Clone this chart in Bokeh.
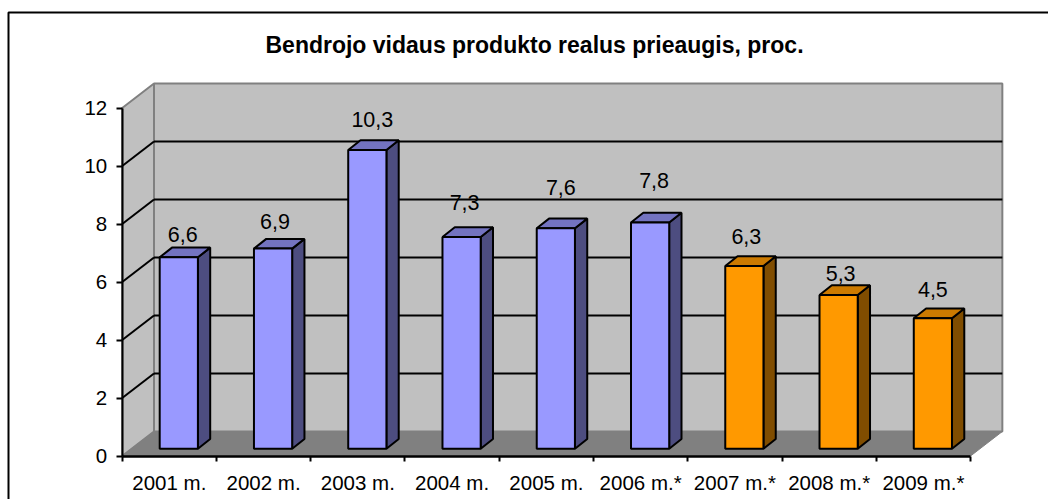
from bokeh.embed import file_html
from bokeh.resources import INLINE
from bokeh.plotting import figure
from bokeh.models import Range1d, LinearAxis, FixedTicker, ColumnDataSource
from bokeh.core.properties import value

TITLE = "Bendrojo vidaus produkto realus prieaugis, proc."
years = ["2001 m.", "2002 m.", "2003 m.", "2004 m.", "2005 m.", "2006 m.*", "2007 m.*", "2008 m.*", "2009 m.*"]
growth = [6.6, 6.9, 10.3, 7.3, 7.6, 7.8, 6.3, 5.3, 4.5]
growth_text = ["6,6", "6,9", "10,3", "7,3", "7,6", "7,8", "6,3", "5,3", "4,5"]
forecast = [False, False, False, False, False, False, True, True, True]
y_ticks = [0, 2, 4, 6, 8, 10, 12]

# lift of each hand-placed data label above its column (px), and its horizontal shift
label_lift = [15, 20, 23, 27, 33, 35, 22, 14, 21]
label_shift = [4, 2, 5, 3, 5, 4, 2, 2, 0]

FONT = "Liberation Sans"
FW, FH = 1048, 499
PX = 94.26      # px per category
PY = 29.0       # px per value unit
X0, Y0 = 121.7, 455.5  # pixel position of origin
DX, DY = 31.8 / PX, 24.5 / PY   # depth of the 3-D box
BAR_L, BAR_W = 37.5 / PX, 38.2 / PX
BAR_B = 7.3 / PY
BDX, BDY = 12.3 / PX, 9.7 / PY
N = len(years)


def sx(px):
    return (px - X0) / PX


def sy(py):
    return (Y0 - py) / PY


p = figure(width=FW, height=FH, min_border=0, output_backend="svg", toolbar_location=None,
           x_axis_type=None, y_axis_type=None,
           x_range=Range1d(sx(0), sx(FW)), y_range=Range1d(sy(FH), sy(0)))
p.grid.visible = False
p.outline_line_color = None
p.background_fill_color = "white"
p.border_fill_color = "white"

# outer chart border (runs off the right and bottom of the picture)
p.line([sx(8), sx(8), sx(FW + 5)], [sy(FH + 5), sy(12), sy(12)], line_color="black", line_width=2)

p.text([sx(534)], [sy(44)], text=[TITLE], text_font=value(FONT), text_font_size="23px", text_font_style="bold",
       text_color="black", text_align="center", text_baseline="middle")

TOP = y_ticks[-1]
# walls and floor
p.patch([0, DX, DX, 0], [TOP, TOP + DY, DY, 0], fill_color="#C0C0C0", line_color="#808080", line_width=2)
p.quad(left=DX, right=N + DX, bottom=DY, top=TOP + DY, fill_color="#C0C0C0", line_color="#808080", line_width=2)
p.patch([0, N, N + DX, DX], [0, 0, DY, DY], fill_color="#808080", line_color="#808080", line_width=1)
# gridlines
gt = [v for v in y_ticks if 0 < v < TOP]
p.segment([DX] * len(gt), [v + DY for v in gt], [N + DX] * len(gt), [v + DY for v in gt], line_color="black", line_width=2)
p.segment([0] * len(gt), gt, [DX] * len(gt), [v + DY for v in gt], line_color="black", line_width=2)

# columns
for i, v in enumerate(growth):
    l, r, b = i + BAR_L, i + BAR_L + BAR_W, BAR_B
    front, side, top = ("#FF9900", "#804D00", "#CC7A00") if forecast[i] else ("#9999FF", "#4D4D80", "#7373C0")
    p.patch([r, r + BDX, r + BDX, r], [b, b + BDY, v + b + BDY, v + b], fill_color=side, line_color="black", line_width=2)
    p.patch([l, r, r + BDX, l + BDX], [v + b, v + b, v + b + BDY, v + b + BDY], fill_color=top, line_color="black", line_width=2)
    p.quad(left=l, right=r, bottom=b, top=v + b, fill_color=front, line_color="black", line_width=2)

src = ColumnDataSource(dict(
    x=[i + BAR_L + BAR_W / 2 for i in range(N)],
    y=[v + BAR_B for v in growth],
    t=growth_text, xo=label_shift, yo=[-d for d in label_lift]))
p.text("x", "y", text="t", x_offset="xo", y_offset="yo", source=src, text_font=value(FONT), text_font_size="21.5px",
       text_color="black", text_align="center", text_baseline="bottom")

# axes
yax = LinearAxis(fixed_location=0, bounds=(0, TOP), ticker=FixedTicker(ticks=y_ticks),
                 major_label_overrides={v: str(v) for v in y_ticks})
yax.major_label_text_font = FONT
yax.major_label_text_font_size = "20.5px"
yax.major_label_text_color = "black"
yax.major_label_standoff = 9
yax.major_tick_out = 6
yax.major_tick_in = 0
yax.minor_tick_out = 0
yax.minor_tick_in = 0
yax.major_tick_line_width = 2
yax.axis_line_width = 2
yax.axis_line_color = "black"
yax.major_tick_line_color = "black"
p.add_layout(yax, "left")

xtk = LinearAxis(fixed_location=0, bounds=(0, N), ticker=FixedTicker(ticks=list(range(N + 1))),
                 major_label_text_font_size="0px")
xtk.major_tick_out = 5
xtk.major_tick_in = 0
xtk.minor_tick_out = 0
xtk.minor_tick_in = 0
xtk.major_tick_line_width = 2
xtk.axis_line_width = 2.5
xtk.axis_line_color = "black"
xtk.major_tick_line_color = "black"
xtk.major_label_text_color = None
p.add_layout(xtk, "below")

centers = [i + 0.5 for i in range(N)]
xax = LinearAxis(fixed_location=0, ticker=FixedTicker(ticks=centers),
                 major_label_overrides={c: y for c, y in zip(centers, years)})
xax.axis_line_color = None
xax.major_tick_line_color = None
xax.minor_tick_line_color = None
xax.major_tick_in = 0
xax.major_tick_out = 0
xax.major_label_standoff = 15
xax.major_label_text_font = FONT
xax.major_label_text_font_size = "20.5px"
xax.major_label_text_color = "black"
p.add_layout(xax, "below")

open("out.html", "w").write(file_html(p, INLINE))
